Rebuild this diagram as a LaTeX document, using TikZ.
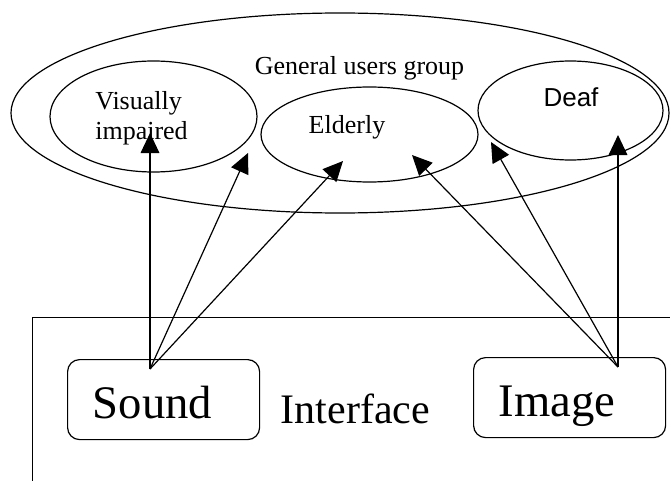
\documentclass[tikz,border=0pt]{standalone}
\usepackage{fontspec}
\setmainfont{Liberation Serif}
\newfontfamily\deaffont{Liberation Sans}
\usetikzlibrary{positioning, shapes, arrows.meta}

\begin{document}
\begin{tikzpicture}[
    x = 0.75pt, y = -0.75pt,
    ellNode/.append style = {draw, ellipse, line width = 0.9pt, inner sep = 0pt},
    rectNode/.append style = {draw, rectangle, rounded corners = 9pt, line width = 0.9pt, anchor = north west,
      minimum height = 60pt, inner xsep = 19pt, text width = 106pt, align = left,
      text height = 28pt, text depth = 0pt, font = \fontsize{35}{40}\selectfont},
    txtNode/.append style = {inner sep = 0pt, font = \fontsize{19.5}{22.5}\selectfont},
    myArrow/.append style = {-{Triangle[length = 15pt, width = 14pt]}, line width = 0.9pt}
    ]
      \useasboundingbox (0,0) rectangle (670,481);
      \clip (0,0) rectangle (670,481);

      %% User groups
      \node[ellNode, minimum width = 493.5pt, minimum height = 150pt] (general) at (340,113) {};
      \node[txtNode, anchor = base] (generalText) at (359.5,75) {General users group};

      \node[ellNode, minimum width = 155.25pt, minimum height = 83.25pt] (visual) at (153.5,116.5) {};
      \node[txtNode, align = left] (visualText) at (141.5,118) {Visually\\impaired};

      \node[ellNode, minimum width = 162.75pt, minimum height = 71.25pt] (elderly) at (369.5,134.5) {};
      \node[txtNode, anchor = base] (elderlyText) at (347,133) {Elderly};

      \node[ellNode, minimum width = 138.75pt, minimum height = 74.25pt] (deaf) at (570.5,110.5) {};
      \node[txtNode, anchor = base, font = \deaffont\fontsize{19.5}{22.5}\selectfont] (deafText) at (571,107) {Deaf};

      %% Interface
      \node[draw, rectangle, line width = 0.9pt, anchor = north west, minimum width = 520pt, minimum height = 160pt] (frame) at (32,317) {};
      \node[inner sep = 0pt, anchor = base, font = \fontsize{31.5}{36}\selectfont] (interface) at (355.5,423) {Interface};

      \node[rectNode] (sound) at (67,359) {Sound};
      \node[rectNode] (image) at (473,357) {Image};

      \coordinate (soundPort) at (150,369);
      \coordinate (imagePort) at (618,367);
      \coordinate (visualTip) at (150,133);
      \coordinate (visualGap) at (248,153);
      \coordinate (elderlyTipA) at (343,161);
      \coordinate (elderlyTipB) at (412,155);
      \coordinate (deafGap) at (491,142);
      \coordinate (deafTip) at (618,135);

      %% Arrows
      \draw[myArrow] (soundPort) -- (visualTip);
      \draw[myArrow] (soundPort) -- (visualGap);
      \draw[myArrow] (soundPort) -- (elderlyTipA);
      \draw[myArrow] (imagePort) -- (elderlyTipB);
      \draw[myArrow] (imagePort) -- (deafGap);
      \draw[myArrow] (imagePort) -- (deafTip);
    \end{tikzpicture}
\end{document}
